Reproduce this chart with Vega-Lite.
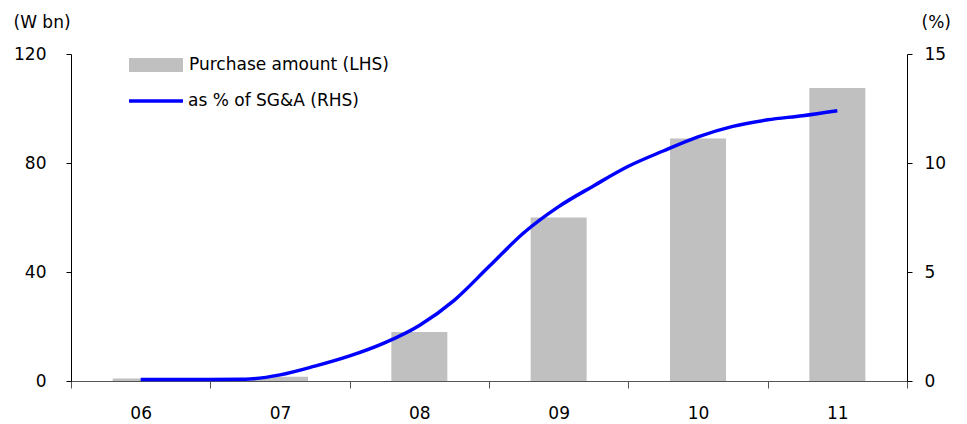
{
  "$schema": "https://vega.github.io/schema/vega-lite/v6.json",
  "autosize": "none",
  "width": 836,
  "height": 327,
  "padding": {"left": 71, "top": 54, "right": 60, "bottom": 43},
  "config": {
    "view": {"stroke": null},
    "font": "DejaVu Sans",
    "axis": {
      "grid": false,
      "labelFont": "DejaVu Sans",
      "labelFontSize": 17,
      "labelColor": "#000000",
      "domainColor": "#000000",
      "tickColor": "#000000",
      "titleFont": "DejaVu Sans",
      "titleFontSize": 17,
      "titleFontWeight": "normal",
      "titleColor": "#000000"
    },
    "legend": {
      "labelFont": "DejaVu Sans",
      "labelFontSize": 17,
      "labelColor": "#000000",
      "labelLimit": 400,
      "padding": 0,
      "labelOffset": 6
    }
  },
  "datasets": {
    "annual": [
      {"year": "06", "amount": 0.9, "series": "Purchase amount (LHS)"},
      {"year": "07", "amount": 1.6, "series": "Purchase amount (LHS)"},
      {"year": "08", "amount": 18, "series": "Purchase amount (LHS)"},
      {"year": "09", "amount": 60, "series": "Purchase amount (LHS)"},
      {"year": "10", "amount": 89, "series": "Purchase amount (LHS)"},
      {"year": "11", "amount": 107.5, "series": "Purchase amount (LHS)"}
    ],
    "quarterly": [
      {"t": 0.0, "pct": 0.07, "series": "as % of SG&A (RHS)"},
      {"t": 0.25, "pct": 0.07, "series": "as % of SG&A (RHS)"},
      {"t": 0.5, "pct": 0.07, "series": "as % of SG&A (RHS)"},
      {"t": 0.75, "pct": 0.08, "series": "as % of SG&A (RHS)"},
      {"t": 1.0, "pct": 0.28, "series": "as % of SG&A (RHS)"},
      {"t": 1.25, "pct": 0.68, "series": "as % of SG&A (RHS)"},
      {"t": 1.5, "pct": 1.15, "series": "as % of SG&A (RHS)"},
      {"t": 1.75, "pct": 1.75, "series": "as % of SG&A (RHS)"},
      {"t": 2.0, "pct": 2.55, "series": "as % of SG&A (RHS)"},
      {"t": 2.25, "pct": 3.7, "series": "as % of SG&A (RHS)"},
      {"t": 2.5, "pct": 5.25, "series": "as % of SG&A (RHS)"},
      {"t": 2.75, "pct": 6.8, "series": "as % of SG&A (RHS)"},
      {"t": 3.0, "pct": 8.0, "series": "as % of SG&A (RHS)"},
      {"t": 3.25, "pct": 8.95, "series": "as % of SG&A (RHS)"},
      {"t": 3.5, "pct": 9.85, "series": "as % of SG&A (RHS)"},
      {"t": 3.75, "pct": 10.55, "series": "as % of SG&A (RHS)"},
      {"t": 4.0, "pct": 11.2, "series": "as % of SG&A (RHS)"},
      {"t": 4.25, "pct": 11.68, "series": "as % of SG&A (RHS)"},
      {"t": 4.5, "pct": 11.98, "series": "as % of SG&A (RHS)"},
      {"t": 4.75, "pct": 12.17, "series": "as % of SG&A (RHS)"},
      {"t": 5.0, "pct": 12.4, "series": "as % of SG&A (RHS)"}
    ]
  },
  "layer": [
    {
      "data": {"name": "annual"},
      "mark": {"type": "bar", "width": 56},
      "encoding": {
        "x": {
          "field": "year",
          "type": "ordinal",
          "scale": {"paddingInner": 0, "paddingOuter": 0},
          "axis": {
            "title": null,
            "labelAngle": 0,
            "tickBand": "extent",
            "tickSize": 7,
            "labelPadding": 17,
            "domainColor": "#555555",
            "tickColor": "#555555"
          }
        },
        "y": {
          "field": "amount",
          "type": "quantitative",
          "scale": {"domain": [0, 120], "nice": false},
          "axis": {
            "values": [0, 40, 80, 120],
            "tickSize": 5,
            "labelPadding": 20,
            "title": "(W bn)",
            "titleAngle": 0,
            "titleAlign": "left",
            "titleBaseline": "middle",
            "titleX": -58,
            "titleY": -32
          }
        },
        "fill": {
          "field": "series",
          "type": "nominal",
          "scale": {"range": ["#c0c0c0"]},
          "legend": {
            "title": null,
            "orient": "none",
            "legendX": 58,
            "legendY": -16,
            "symbolType": "M-1,-0.26L1,-0.26L1,0.26L-1,0.26Z",
            "symbolSize": 2916,
            "symbolStrokeWidth": 0
          }
        }
      }
    },
    {
      "data": {"name": "quarterly"},
      "mark": {"type": "line", "interpolate": "monotone", "strokeWidth": 3.5},
      "encoding": {
        "x": {
          "field": "t",
          "type": "quantitative",
          "scale": {"domain": [-0.5, 5.5], "nice": false, "zero": false},
          "axis": null
        },
        "y": {
          "field": "pct",
          "type": "quantitative",
          "scale": {"domain": [0, 15], "nice": false},
          "axis": {
            "orient": "right",
            "values": [0, 5, 10, 15],
            "tickSize": 5,
            "labelPadding": 12,
            "title": "(%)",
            "titleAngle": 0,
            "titleAlign": "left",
            "titleBaseline": "middle",
            "titleX": 14,
            "titleY": -32
          }
        },
        "stroke": {
          "field": "series",
          "type": "nominal",
          "scale": {"range": ["#0000ff"]},
          "legend": {
            "title": null,
            "orient": "none",
            "legendX": 56,
            "legendY": 18,
            "labelOffset": 3,
            "symbolType": "stroke",
            "symbolSize": 2916,
            "symbolStrokeWidth": 3.5
          }
        }
      }
    }
  ],
  "resolve": {"scale": {"x": "independent", "y": "independent"}}
}
